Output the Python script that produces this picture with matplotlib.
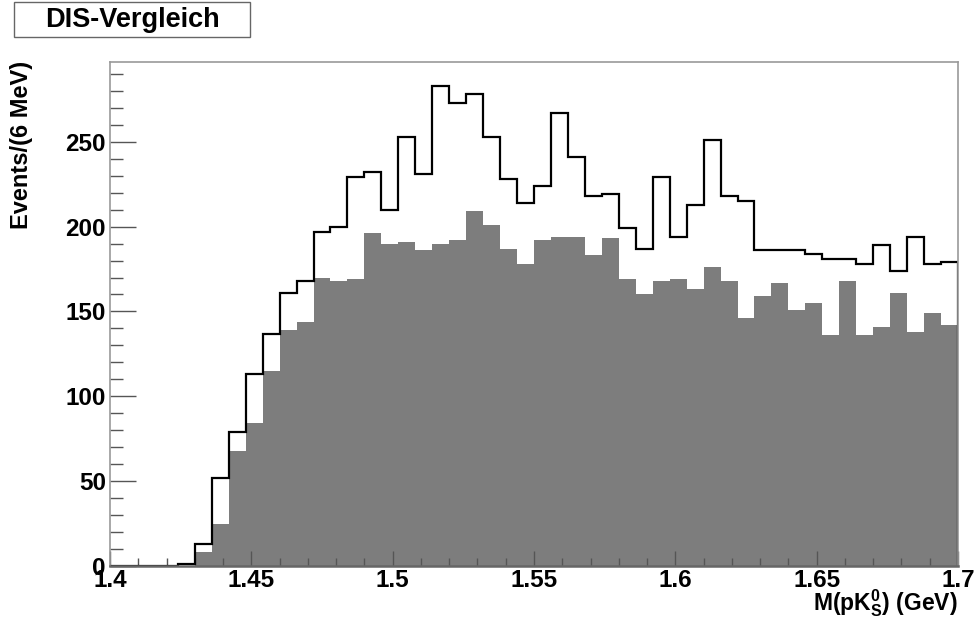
import numpy as np
import matplotlib
matplotlib.use("Agg")
import matplotlib.pyplot as plt
from matplotlib.patches import Rectangle
from matplotlib.ticker import MultipleLocator

plt.rcParams['font.family'] = ['Liberation Sans', 'DejaVu Sans']
plt.rcParams['mathtext.fontset'] = 'custom'
plt.rcParams['mathtext.rm'] = 'Liberation Sans:bold'
plt.rcParams['mathtext.it'] = 'Liberation Sans:bold'
plt.rcParams['mathtext.bf'] = 'Liberation Sans:bold'

x_min, x_max, n_bins = 1.4, 1.7, 50
edges = np.linspace(x_min, x_max, n_bins + 1)

dis_counts = [0, 0, 0, 0, 1, 13, 52, 79, 113, 137, 161, 168, 197, 200, 229, 232, 210, 253, 231, 283,
              273, 278, 253, 228, 214, 224, 267, 241, 218, 219, 199, 187, 229, 194, 213, 251, 218, 215,
              186, 186, 186, 184, 181, 181, 178, 189, 174, 194, 178, 179]
cmp_counts = [0, 0, 0, 0, 0, 8, 25, 68, 84, 115, 139, 144, 170, 168, 169, 196, 190, 191, 186, 190,
              192, 209, 201, 187, 178, 192, 194, 194, 183, 193, 169, 160, 168, 169, 163, 176, 168, 146,
              159, 167, 151, 155, 136, 168, 136, 141, 161, 138, 149, 142]

x_ticks = [1.4, 1.45, 1.5, 1.55, 1.6, 1.65, 1.7]
x_tick_labels = ["1.4", "1.45", "1.5", "1.55", "1.6", "1.65", "1.7"]

title = "DIS-Vergleich"
ylabel = "Events/(6 MeV)"
xlabel = r"M(pK$^{0}_{S}$) (GeV)"

fig = plt.figure(figsize=(9.75, 6.26), dpi=100)
ax = fig.add_axes([110/975, 1 - 566/626, (958-110)/975, (566-62)/626])

ax.stairs(cmp_counts, edges, fill=True, color='#7d7d7d', zorder=1)
ax.stairs(dis_counts, edges, color='black', linewidth=1.6, zorder=2)

ax.set_xlim(x_min, x_max)
ax.set_ylim(0, 297)

ax.set_xticks(x_ticks)
ax.set_xticklabels(x_tick_labels)
ax.xaxis.set_minor_locator(MultipleLocator(0.01))
ax.yaxis.set_major_locator(MultipleLocator(50))
ax.yaxis.set_minor_locator(MultipleLocator(10))

ax.tick_params(axis='y', which='major', direction='in', length=19, width=1, color='#555555',
               labelsize=17.5, pad=3, right=False)
ax.tick_params(axis='y', which='minor', direction='in', length=9.5, width=1, color='#555555', right=False)
ax.tick_params(axis='x', which='major', direction='in', length=11, width=1, color='#555555',
               labelsize=17.5, pad=2, top=False)
ax.tick_params(axis='x', which='minor', direction='in', length=5.5, width=1, color='#555555', top=False)
for lab in ax.get_xticklabels() + ax.get_yticklabels():
    lab.set_fontweight('bold')

for s in ax.spines.values():
    s.set_color('#999999')
    s.set_linewidth(1.2)
    s.set_zorder(3)
ax.spines['bottom'].set_color('#666666')
ax.spines['bottom'].set_linewidth(1.8)

fig.text(22/975, 1 - 61/626, ylabel, rotation=90, ha='center', va='top',
         fontsize=17, fontweight='bold')
fig.text(958/975, 1 - 610/626, xlabel, ha='right', va='baseline',
         fontsize=16.5, fontweight='bold')

fig.patches.append(Rectangle((14/975, 1 - 37/626), (250-14)/975, 35/626,
                             transform=fig.transFigure, facecolor='white',
                             edgecolor='#666666', linewidth=1))
fig.text(132/975, 1 - 20/626, title, ha='center', va='center', fontsize=19.5, fontweight='bold')

fig.savefig("out.png", dpi=100)
